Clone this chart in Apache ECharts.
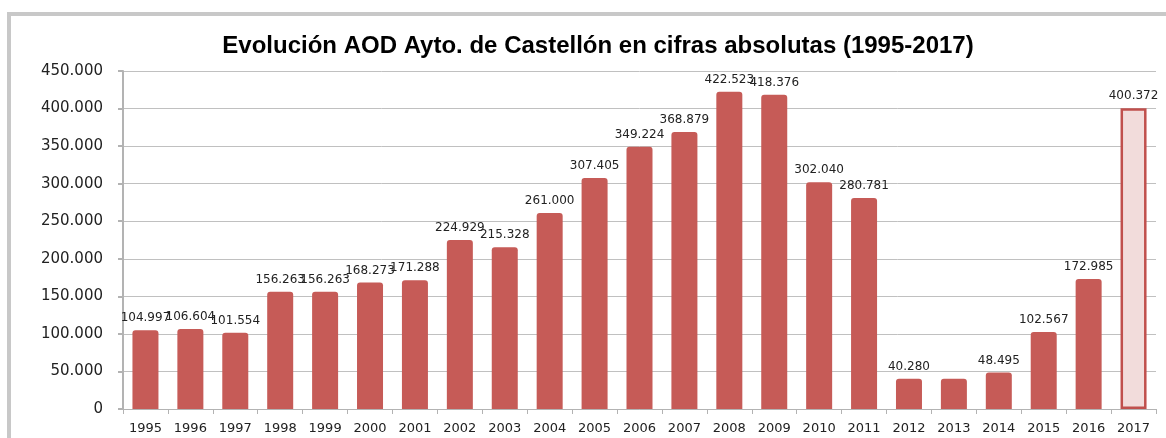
<!DOCTYPE html>
<html>
<head>
<meta charset="utf-8">
<script src="https://cdn.jsdelivr.net/npm/echarts@6/dist/echarts.min.js"></script>
<style>
  html, body { margin: 0; padding: 0; background: #ffffff; }
  #chart { width: 1166px; height: 438px; }
</style>
</head>
<body>
<div id="chart"></div>
<script>
// años y valores (euros)
const years = ['1995', '1996', '1997', '1998', '1999', '2000', '2001', '2002', '2003', '2004', '2005', '2006',
  '2007', '2008', '2009', '2010', '2011', '2012', '2013', '2014', '2015', '2016', '2017']
const values = [104997, 106604, 101554, 156263, 156263, 168273, 171288, 224929, 215328, 261000, 307405, 349224,
  368879, 422523, 418376, 302040, 280781, 40280, 40300, 48495, 102567, 172985, 400372]
// 2013 no lleva etiqueta en el original
const hideLabel = ['2013']
const yTicks = [0, 50000, 100000, 150000, 200000, 250000, 300000, 350000, 400000, 450000]

const fmt = v => String(v).replace(/\B(?=(\d{3})+(?!\d))/g, '.')

const chart = echarts.init(document.getElementById('chart'))

const data = values.map((v, i) => {
  const item = { value: v }
  if (hideLabel.includes(years[i])) item.label = { show: false }
  if (years[i] === '2017') {
    item.itemStyle = { color: '#f2dcdb', borderColor: '#c0504d', borderWidth: 2.5, borderRadius: 0 }
  }
  return item
})

chart.setOption({
  backgroundColor: '#ffffff',
  animation: false,
  title: {
    text: 'Evolución AOD Ayto. de Castellón en cifras absolutas (1995-2017)',
    left: 593,
    textAlign: 'center',
    top: 29,
    textStyle: {
      fontFamily: 'Liberation Sans',
      fontWeight: 'bold',
      fontSize: 24,
      color: '#000000'
    }
  },
  graphic: [{
    type: 'rect',
    shape: { x: 9, y: 14, width: 1200, height: 500 },
    style: { fill: 'none', stroke: '#c8c8c8', lineWidth: 4 },
    silent: true
  }],
  grid: {
    left: 123,
    right: 10,
    top: 71,
    bottom: 29
  },
  xAxis: {
    type: 'category',
    data: years,
    axisLine: { lineStyle: { color: '#b3b3b3', width: 1 } },
    axisTick: { show: true, length: 5, lineStyle: { color: '#b3b3b3' } },
    axisLabel: {
      color: '#222222',
      fontFamily: 'DejaVu Sans',
      fontSize: 13,
      margin: 13
    }
  },
  yAxis: {
    type: 'value',
    min: 0,
    max: yTicks[yTicks.length - 1],
    interval: 50000,
    axisLine: { show: true, lineStyle: { color: '#b3b3b3', width: 2 } },
    axisTick: { show: true, length: 5, lineStyle: { color: '#b3b3b3', width: 2 } },
    splitLine: { lineStyle: { color: '#c0c0c0', width: 1 } },
    axisLabel: {
      color: '#222222',
      fontFamily: 'DejaVu Sans',
      fontSize: 15,
      margin: 20,
      formatter: v => fmt(v)
    }
  },
  series: [{
    type: 'bar',
    data: data,
    barWidth: 26,
    itemStyle: { color: '#c65b57', borderRadius: [3, 3, 0, 0] },
    label: {
      show: true,
      position: 'top',
      distance: 6,
      color: '#222222',
      fontFamily: 'DejaVu Sans',
      fontSize: 12,
      formatter: p => fmt(p.value)
    }
  }]
})
</script>
</body>
</html>
